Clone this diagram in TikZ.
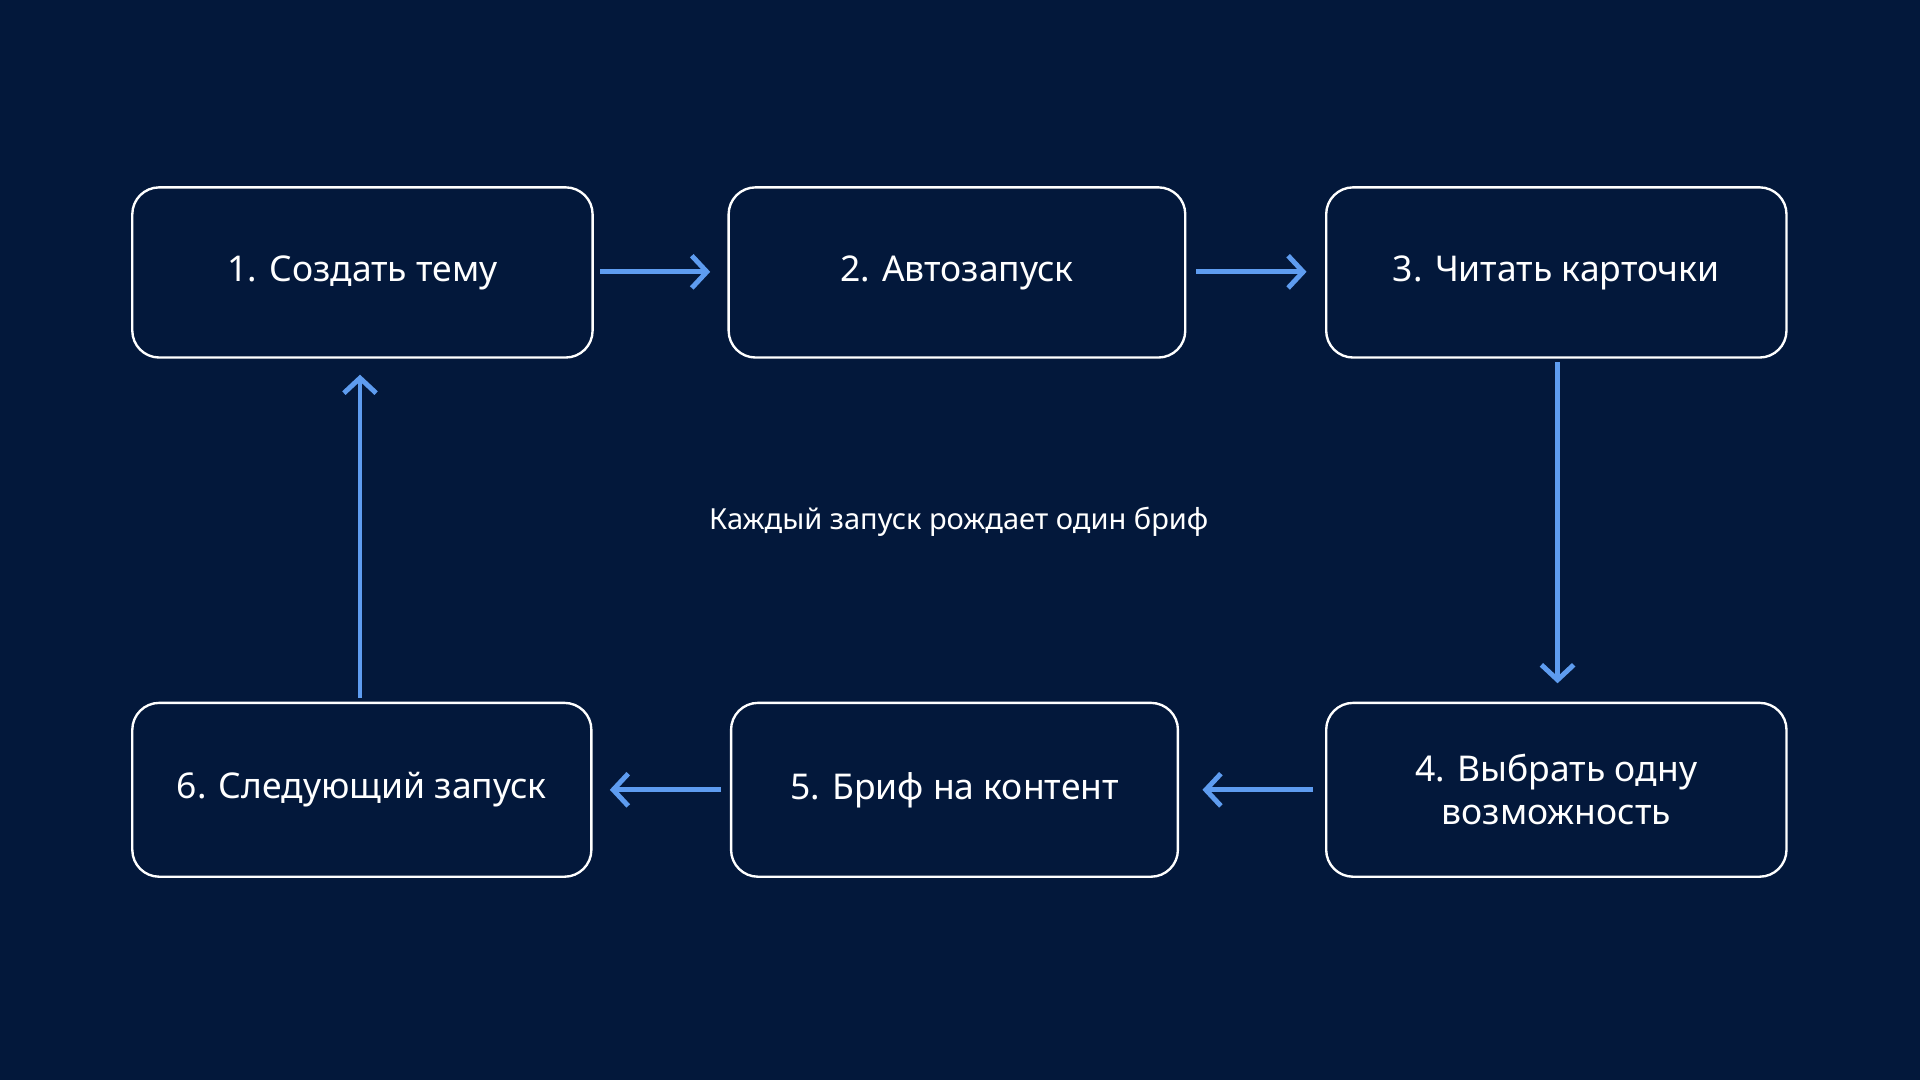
\documentclass[tikz,border=0pt]{standalone}
\usepackage{fontspec}
\setmainfont{Noto Sans}
\usetikzlibrary{arrows.meta}
\definecolor{bg}{HTML}{03183B}
\definecolor{arr}{HTML}{5E9CF0}
\begin{document}
\begin{tikzpicture}[x=0.02cm,y=-0.02cm,
  box/.style={draw=white,line width=1.1pt,rounded corners=0.44cm,text=white,font=\fontsize{16.5}{20}\selectfont\bfseries,align=center},
  ar/.style={draw=arr,line width=2.3pt,-{Straight Barb[length=7pt,width=15pt,line width=2.3pt]}}]
\fill[bg] (0,0) rectangle (1568,882);
\useasboundingbox (0,0) rectangle (1568,882);
\node[box,minimum width=7.52cm,minimum height=2.78cm] (n1) at (296,222.5) {1. Создать тему};
\node[box,minimum width=7.46cm,minimum height=2.78cm] (n2) at (781.5,222.5) {2. Автозапуск};
\node[box,minimum width=7.52cm,minimum height=2.78cm] (n3) at (1271,222.5) {3. Читать карточки};
\node[box,minimum width=7.52cm,minimum height=2.84cm] (n4) at (1271,645) {4. Выбрать одну\\возможность};
\node[box,minimum width=7.30cm,minimum height=2.84cm] (n5) at (779.5,645) {5. Бриф на контент};
\node[box,minimum width=7.50cm,minimum height=2.84cm] (n6) at (295.5,645) {6. Следующий запуск};
\node[text=white,font=\fontsize{13.5}{16}\selectfont] (lab) at (783,426) {Каждый запуск рождает один бриф};
\coordinate (a1) at (490,222); \coordinate (b1) at (580,222);
\coordinate (a2) at (977,222); \coordinate (b2) at (1067,222);
\coordinate (a3) at (1272,296); \coordinate (b3) at (1272,558);
\coordinate (a4) at (1072,645); \coordinate (b4) at (982,645);
\coordinate (a5) at (589,645); \coordinate (b5) at (498,645);
\coordinate (a6) at (294,570); \coordinate (b6) at (294,306);
\foreach \i in {1,...,6}{\draw[ar] (a\i) -- (b\i);}
\end{tikzpicture}
\end{document}
